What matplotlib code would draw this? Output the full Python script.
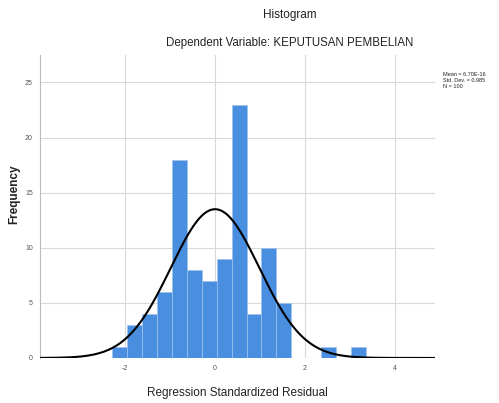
import numpy as np
import matplotlib
matplotlib.use("Agg")
import matplotlib.pyplot as plt

# histogram of regression standardized residuals (N = 100)
BIN_START = -2.3
BIN_WIDTH = 1 / 3
counts = [1, 3, 4, 6, 18, 8, 7, 9, 23, 4, 10, 5, 0, 0, 1, 0, 1]
mean = 0.0
std = 0.985
n_obs = 100

x_ticks = [-2, 0, 2, 4]
y_ticks = [0, 5, 10, 15, 20, 25]

BLUE = "#4a8edf"
GRID = "#d9d9d9"
TXT = "#222222"

plt.rcParams["font.family"] = ["Liberation Sans", "DejaVu Sans"]
plt.rcParams["axes.unicode_minus"] = False

fig = plt.figure(figsize=(4.99, 4.03), dpi=100)
ax = fig.add_axes([0.080, 0.1117, 0.792, 0.752])

edges = BIN_START + BIN_WIDTH * np.arange(len(counts) + 1)
ax.bar(edges[:-1], counts, width=BIN_WIDTH, align="edge", color=BLUE,
       edgecolor="#9fc3ef", linewidth=0.5, zorder=2)

# fitted normal curve, scaled to the counts
xs = np.linspace(-3.9, 4.9, 400)
ys = n_obs * BIN_WIDTH / (std * np.sqrt(2 * np.pi)) * np.exp(-0.5 * ((xs - mean) / std) ** 2)
ax.plot(xs, ys, color="black", linewidth=1.5, zorder=3)

ax.set_xlim(-3.9, 4.9)
ax.set_ylim(0, 27.5)
ax.set_xticks(x_ticks)
ax.set_yticks(y_ticks)
ax.tick_params(labelsize=5, colors="#555555", length=0, pad=5)
ax.grid(color=GRID, linewidth=0.8)
ax.set_axisbelow(True)
for s in ("top", "right", "bottom"):
    ax.spines[s].set_visible(False)
ax.spines["left"].set_color("#bbbbbb")

ax.set_ylabel("Frequency", fontsize=8.5, weight="bold", color=TXT)
ax.yaxis.set_label_coords(-0.05, 0.54)
ax.set_xlabel("Regression Standardized Residual", fontsize=8.5, color=TXT, labelpad=11)

fig.text(0.581, 0.962, "Histogram", ha="center", va="center", fontsize=8.5, color=TXT)
fig.text(0.581, 0.893, "Dependent Variable: KEPUTUSAN PEMBELIAN", ha="center",
         va="center", fontsize=8.3, color=TXT)

fig.text(0.888, 0.800, "Mean = 6.70E-16\nStd. Dev. = 0.985\nN = 100",
         ha="left", va="center", fontsize=4, color=TXT, linespacing=1.2)

fig.savefig("out.png", dpi=100, facecolor="white")
